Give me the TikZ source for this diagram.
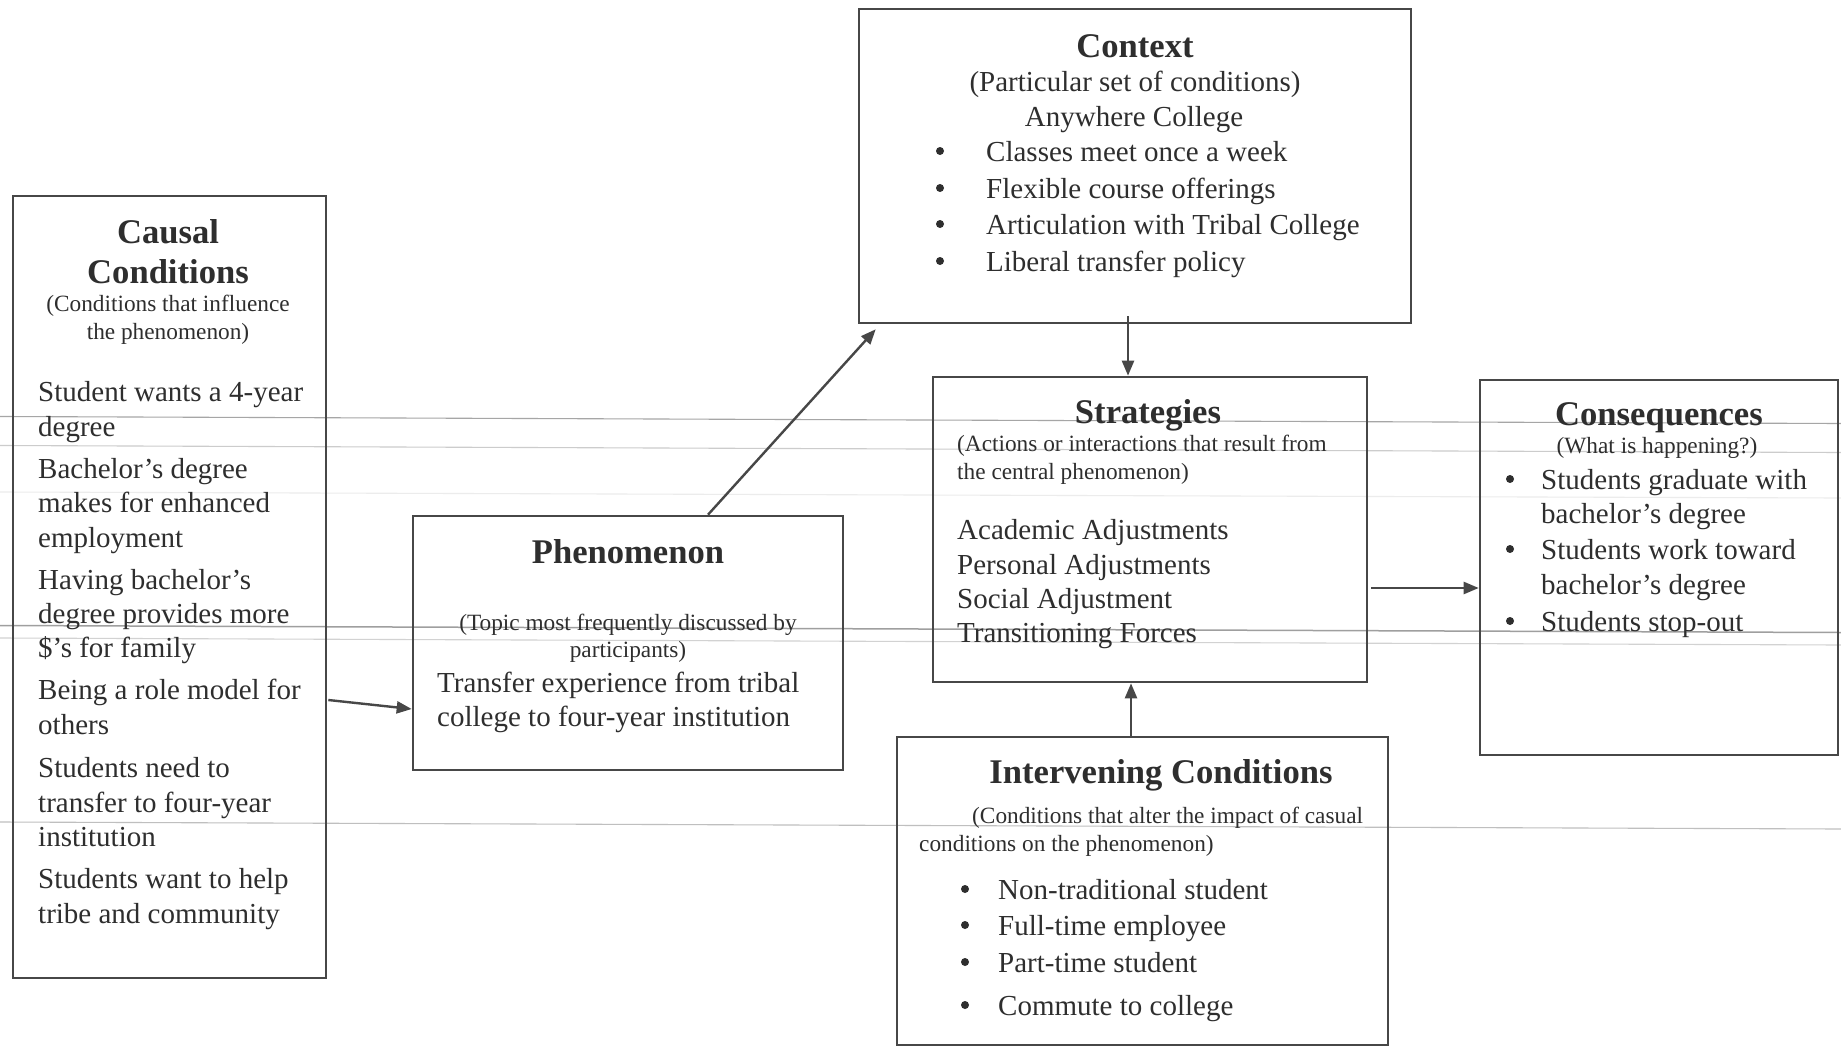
\documentclass[tikz,border=0pt]{standalone}
\usepackage{fontspec}
\setmainfont{Liberation Serif}
\usetikzlibrary{arrows.meta,calc}
\definecolor{ink}{HTML}{2E2E2E}
\definecolor{rule}{HTML}{474747}
\begin{document}
\begin{tikzpicture}[x=1pt,y=-1pt,
  box/.style={draw=rule, line width=2.6pt, rectangle, inner sep=0pt},
  arr/.style={draw=rule, line width=2.4pt, -{Triangle[length=15pt,width=12pt]}},
  ttl/.style={inner sep=0pt, text=ink, font=\fontsize{34.6}{40}\selectfont\bfseries},
  bod/.style={inner sep=0pt, text=ink, font=\fontsize{29}{34.6}\selectfont},
  sml/.style={inner sep=0pt, text=ink, font=\fontsize{23.3}{28}\selectfont},
  bul/.style={circle, fill=ink, inner sep=0pt, minimum size=8pt},
  scan/.style={line width=1.1pt}
]
\fill[white] (0,0) rectangle (1841,1049);
\useasboundingbox (0,0) rectangle (1841,1049);

% faint horizontal streaks across the sheet
\draw[scan, gray!70] (0,416.5) -- (1841,423.5);
\draw[scan, gray!40] (0,445.5) -- (1841,452.5);
\draw[scan, gray!15] (0,492) -- (1841,498);
\draw[scan, gray!75, line width=1.5pt] (0,625.5) -- (1841,632.5);
\draw[scan, gray!35] (0,638) -- (1841,645);
\draw[scan, gray!50] (0,822) -- (1841,829);

% boxes
\node[box, minimum width=313pt, minimum height=782pt] (causal)  at (169.5,587) {};
\node[box, minimum width=430pt, minimum height=254pt] (phen)    at (628,643) {};
\node[box, minimum width=552pt, minimum height=314pt] (context) at (1135,166) {};
\node[box, minimum width=434pt, minimum height=305pt] (strat)   at (1150,529.5) {};
\node[box, minimum width=358pt, minimum height=375pt] (conseq)  at (1659,567.5) {};
\node[box, minimum width=491pt, minimum height=308pt] (interv)  at (1142.5,891) {};

% Causal Conditions
\node[ttl, anchor=base] (cT1) at (168,243) {Causal};
\node[ttl, anchor=base] (cT2) at (168,283) {Conditions};
\node[sml, anchor=base] (cS1) at (168,311) {(Conditions that influence};
\node[sml, anchor=base] (cS2) at (168,339) {the phenomenon)};
\foreach \t/\y [count=\i] in {Student wants a 4-year/401, degree/436,
    Bachelor's degree/478, makes for enhanced/512, employment/547,
    Having bachelor's/589, degree provides more/623, \$'s for family/657,
    Being a role model for/699, others/734,
    Students need to/777, transfer to four-year/812, institution/846,
    Students want to help/888, tribe and community/923}
  \node[bod, anchor=base west] (cL\i) at (38,\y) {\t};

% Phenomenon
\node[ttl, anchor=base] (pT) at (628,563) {Phenomenon};
\node[sml, anchor=base] (pS1) at (628,630) {(Topic most frequently discussed by};
\node[sml, anchor=base] (pS2) at (628,657) {participants)};
\node[bod, anchor=base west] (pL1) at (437,692) {Transfer experience from tribal};
\node[bod, anchor=base west] (pL2) at (437,726) {college to four-year institution};

% Context
\node[ttl, anchor=base] (xT) at (1135,58) {Context};
\node[bod, anchor=base] (xS) at (1135,92) {(Particular set of conditions)};
\node[bod, anchor=base] (xA) at (1134,126) {Anywhere College};
\foreach \t/\y [count=\i] in {Classes meet once a week/161, Flexible course offerings/198,
    Articulation with Tribal College/234, Liberal transfer policy/271}{
  \node[bul] (xB\i) at (940,\y-10) {};
  \node[bod, anchor=base west] (xL\i) at (986,\y) {\t};
}

% Strategies
\node[ttl, anchor=base] (sT) at (1148,423) {Strategies};
\node[sml, anchor=base west] (sS1) at (957,451) {(Actions or interactions that result from};
\node[sml, anchor=base west] (sS2) at (957,479) {the central phenomenon)};
\foreach \t/\y [count=\i] in {Academic Adjustments/539, Personal Adjustments/574,
    Social Adjustment/608, Transitioning Forces/642}
  \node[bod, anchor=base west] (sL\i) at (957,\y) {\t};

% Consequences
\node[ttl, anchor=base] (qT) at (1659,425) {Consequences};
\node[sml, anchor=base] (qS) at (1657,453) {(What is happening?)};
\foreach \t/\y [count=\i] in {Students graduate with/489, bachelor's degree/523,
    Students work toward/559, bachelor's degree/594, Students stop-out/631}
  \node[bod, anchor=base west] (qL\i) at (1541,\y) {\t};
\foreach \y [count=\i] in {489,559,631}
  \node[bul] (qB\i) at (1510,\y-10) {};

% Intervening Conditions
\node[ttl, anchor=base] (iT) at (1161,783) {Intervening Conditions};
\node[sml, anchor=base west] (iS1) at (972,823) {(Conditions that alter the impact of casual};
\node[sml, anchor=base west] (iS2) at (919,851) {conditions on the phenomenon)};
\foreach \t/\y [count=\i] in {Non-traditional student/899, Full-time employee/935,
    Part-time student/972, Commute to college/1015}{
  \node[bul] (iB\i) at (965,\y-10) {};
  \node[bod, anchor=base west] (iL\i) at (998,\y) {\t};
}

% connectors
\draw[arr] ($(causal.east)+(1,113)$) -- ($(phen.west)+(0,66)$);
\draw[arr] ($(phen.north)+(80,0)$) -- ($(context.south west)+(18,5)$);
\draw[arr] ($(context.south)+(-7,-8)$) -- ($(strat.north)+(-22,0)$);
\draw[arr] ($(interv.north)+(-11.5,0)$) -- ($(strat.south)+(-19,0)$);
\draw[arr] ($(strat.east)+(3,58.5)$) -- ($(conseq.west)+(0,20.5)$);
\end{tikzpicture}
\end{document}
